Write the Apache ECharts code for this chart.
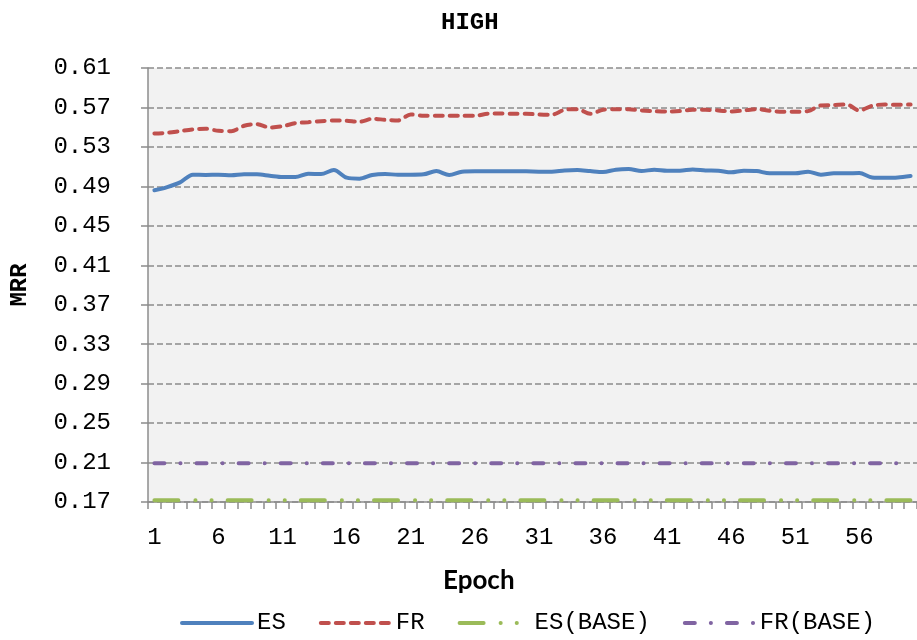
<!DOCTYPE html>
<html>
<head>
<meta charset="utf-8">
<script src="https://cdn.jsdelivr.net/npm/echarts@6/dist/echarts.min.js"></script>
<style>html,body{margin:0;padding:0;background:#fff;}#c{width:917px;height:640px;}</style>
</head>
<body>
<div id="c"></div>
<script>
const categories = [];
for (let i = 1; i <= 60; i++) categories.push(String(i));

const ES = [0.4860,0.4893,0.4940,0.5018,0.5015,0.5018,0.5012,0.5022,0.5022,0.5008,
            0.4995,0.4995,0.5028,0.5025,0.5066,0.4988,0.4978,0.5015,0.5025,0.5018,
            0.5018,0.5022,0.5055,0.5015,0.5049,0.5052,0.5052,0.5052,0.5052,0.5052,
            0.5049,0.5049,0.5062,0.5066,0.5055,0.5045,0.5069,0.5076,0.5055,0.5069,
            0.5059,0.5059,0.5072,0.5062,0.5059,0.5042,0.5059,0.5055,0.5032,0.5032,
            0.5032,0.5049,0.5018,0.5032,0.5032,0.5035,0.4991,0.4988,0.4991,0.5005];

const FR = [0.5436,0.5443,0.5460,0.5477,0.5484,0.5463,0.5460,0.5514,0.5531,0.5497,
            0.5510,0.5541,0.5551,0.5561,0.5568,0.5565,0.5555,0.5585,0.5575,0.5568,
            0.5629,0.5616,0.5616,0.5616,0.5616,0.5616,0.5636,0.5639,0.5636,0.5636,
            0.5629,0.5626,0.5676,0.5683,0.5636,0.5676,0.5683,0.5683,0.5670,0.5663,
            0.5659,0.5663,0.5676,0.5676,0.5670,0.5659,0.5670,0.5683,0.5666,0.5656,
            0.5656,0.5663,0.5720,0.5724,0.5730,0.5670,0.5717,0.5730,0.5727,0.5730];

const ES_BASE = [0.1718,0.1718,0.1718,0.1718,0.1718,0.1718,0.1718,0.1718,0.1718,0.1718,
                 0.1718,0.1718,0.1718,0.1718,0.1718,0.1718,0.1718,0.1718,0.1718,0.1718,
                 0.1718,0.1718,0.1718,0.1718,0.1718,0.1718,0.1718,0.1718,0.1718,0.1718,
                 0.1718,0.1718,0.1718,0.1718,0.1718,0.1718,0.1718,0.1718,0.1718,0.1718,
                 0.1718,0.1718,0.1718,0.1718,0.1718,0.1718,0.1718,0.1718,0.1718,0.1718,
                 0.1718,0.1718,0.1718,0.1718,0.1718,0.1718,0.1718,0.1718,0.1718,0.1718];

const FR_BASE = [0.2092,0.2092,0.2092,0.2092,0.2092,0.2092,0.2092,0.2092,0.2092,0.2092,
                 0.2092,0.2092,0.2092,0.2092,0.2092,0.2092,0.2092,0.2092,0.2092,0.2092,
                 0.2092,0.2092,0.2092,0.2092,0.2092,0.2092,0.2092,0.2092,0.2092,0.2092,
                 0.2092,0.2092,0.2092,0.2092,0.2092,0.2092,0.2092,0.2092,0.2092,0.2092,
                 0.2092,0.2092,0.2092,0.2092,0.2092,0.2092,0.2092,0.2092,0.2092,0.2092,
                 0.2092,0.2092,0.2092,0.2092,0.2092,0.2092,0.2092,0.2092,0.2092,0.2092];

const Y_MIN = 0.17, Y_MAX = 0.61, Y_STEP = 0.04;

const mono = '"Liberation Mono", "DejaVu Sans Mono", monospace';
const chart = echarts.init(document.getElementById('c'), null, {renderer: 'canvas'});

chart.setOption({
  animation: false,
  backgroundColor: '#ffffff',
  title: {
    text: 'HIGH', left: 436, top: 6,
    textStyle: {fontFamily: mono, fontWeight: 'bold', fontSize: 24, color: '#000'}
  },
  legend: {
    left: 175, top: 606, itemWidth: 70, itemHeight: 14, itemGap: 33,
    itemStyle: {opacity: 0},
    lineStyle: {width: 4, cap: 'round'},
    textStyle: {fontFamily: mono, fontSize: 24, color: '#000'},
    data: ['ES', 'FR', 'ES(BASE)', 'FR(BASE)']
  },
  grid: {
    left: 148, right: 0, top: 68, bottom: 138,
    show: true, backgroundColor: '#F2F2F2', borderWidth: 0
  },
  graphic: [{
    type: 'text', left: 443, top: 568,
    style: {text: 'Epoch', font: 'bold 26px Lato, "Open Sans", sans-serif', fill: '#000'}
  }],
  xAxis: {
    type: 'category', data: categories, boundaryGap: true,
    axisLine: {show: true, lineStyle: {color: '#8C8C8C', width: 1.5}},
    axisTick: {show: true, interval: 0, length: 7, lineStyle: {color: '#8C8C8C', width: 1.5}},
    axisLabel: {interval: 4, margin: 24, fontFamily: mono, fontSize: 24, color: '#000'},
    splitLine: {show: false}
  },
  yAxis: {
    type: 'value', min: Y_MIN, max: Y_MAX, interval: Y_STEP,
    name: 'MRR', nameLocation: 'middle', nameGap: 116, nameRotate: 90,
    nameTextStyle: {fontFamily: mono, fontWeight: 'bold', fontSize: 24, color: '#000'},
    axisLine: {show: true, lineStyle: {color: '#8C8C8C', width: 1.5}},
    axisTick: {show: true, length: 7, lineStyle: {color: '#8C8C8C', width: 1.5}},
    axisLabel: {margin: 37, fontFamily: mono, fontSize: 24, color: '#000',
                formatter: v => v.toFixed(2)},
    splitLine: {show: true, lineStyle: {color: '#8C8C8C', width: 1.5, type: [6, 3]}}
  },
  series: [
    {name: 'ES', type: 'line', data: ES, symbol: 'none', smooth: 0.3, z: 5,
     itemStyle: {color: '#4F81BD'},
     lineStyle: {color: '#4F81BD', width: 4, cap: 'round'}},
    {name: 'FR', type: 'line', data: FR, symbol: 'none', smooth: 0.3, z: 5,
     itemStyle: {color: '#C0504D'},
     lineStyle: {color: '#C0504D', width: 4, type: [8, 7], cap: 'round'}},
    {name: 'ES(BASE)', type: 'line', data: ES_BASE, symbol: 'none', z: 4,
     itemStyle: {color: '#9BBB59'},
     lineStyle: {color: '#9BBB59', width: 4, type: [24, 17, 0.1, 16, 0.1, 16], cap: 'round'}},
    {name: 'FR(BASE)', type: 'line', data: FR_BASE, symbol: 'none', z: 4,
     itemStyle: {color: '#8064A2'},
     lineStyle: {color: '#8064A2', width: 4, type: [10, 16, 0.1, 16], cap: 'round'}}
  ]
});
</script>
</body>
</html>
